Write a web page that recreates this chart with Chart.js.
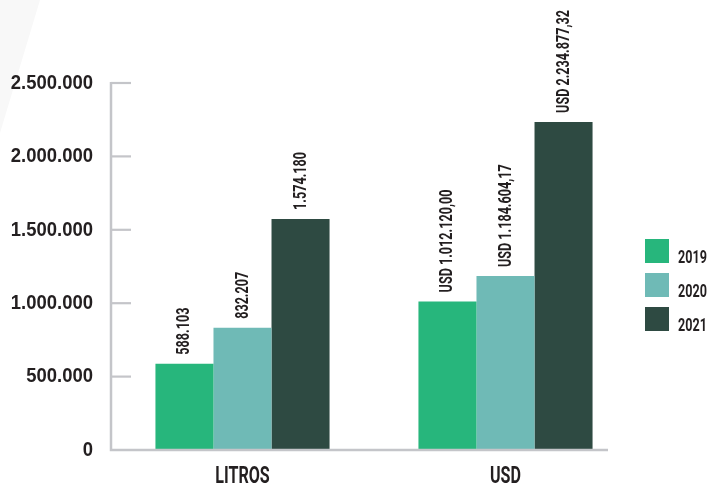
<!DOCTYPE html>
<html>
<head>
<meta charset="utf-8">
<script src="https://cdn.jsdelivr.net/npm/chart.js@4"></script>
<style>
  html, body { margin: 0; padding: 0; background: #ffffff; }
  #wrap { width: 710px; height: 488px; position: relative; }
</style>
</head>
<body>
<div id="wrap"><canvas id="c" width="710" height="488" style="width:710px;height:488px"></canvas></div>
<script>
// ---- data ----
const categories = ['LITROS', 'USD'];
const seriesNames = ['2019', '2020', '2021'];
const values2019 = [588103, 1012120.00];
const values2020 = [832207, 1184604.17];
const values2021 = [1574180, 2234877.32];
const yTickLabels = ['0', '500.000', '1.000.000', '1.500.000', '2.000.000', '2.500.000'];
const valuePrefixes = ['', 'USD '];
const valueDecimals = [0, 2];

// ---- styles ----
const seriesColors = ['#27b67c', '#6fbab6', '#2e4a42'];
const textColor = '#231f20';
const axisColor = '#c4c5c9';

function fmtNumber(v, dec) {
  const parts = Math.abs(v).toFixed(dec).split('.');
  const intPart = parts[0].replace(/\B(?=(\d{3})+(?!\d))/g, '.');
  return (v < 0 ? '-' : '') + intPart + (dec > 0 ? ',' + parts[1] : '');
}

// condensed text rendering (horizontal squeeze per font family)
const canvas = document.getElementById('c');
const ctx = canvas.getContext('2d');
function squeezeFor(font) {
  if (font.indexOf('Roboto') >= 0) return 0.7;
  if (font.indexOf('Liberation') >= 0) return 0.88;
  return 1;
}
const origFill = ctx.fillText.bind(ctx);
const origMeasure = ctx.measureText.bind(ctx);
ctx.fillText = function (t, x, y) {
  const s = squeezeFor(ctx.font);
  ctx.save();
  ctx.translate(x, y);
  ctx.scale(s, 1);
  origFill(t, 0, 0);
  ctx.restore();
};
ctx.measureText = function (t) {
  const m = origMeasure(t);
  const s = squeezeFor(ctx.font);
  return {
    width: m.width * s,
    actualBoundingBoxAscent: m.actualBoundingBoxAscent,
    actualBoundingBoxDescent: m.actualBoundingBoxDescent,
    actualBoundingBoxLeft: m.actualBoundingBoxLeft * s,
    actualBoundingBoxRight: m.actualBoundingBoxRight * s,
    fontBoundingBoxAscent: m.fontBoundingBoxAscent,
    fontBoundingBoxDescent: m.fontBoundingBoxDescent
  };
};

const decoPlugin = {
  id: 'deco',
  beforeDraw(chart) {
    const c = chart.ctx;
    c.save();
    c.fillStyle = '#f8f8f8';
    c.beginPath();
    c.moveTo(0, 0);
    c.lineTo(40, 0);
    c.lineTo(0, 133);
    c.closePath();
    c.fill();
    c.restore();
  }
};

const axesPlugin = {
  id: 'customAxes',
  afterDatasetsDraw(chart) {
    const c = chart.ctx;
    const a = chart.chartArea;
    const y = chart.scales.y;
    c.save();
    c.strokeStyle = axisColor;
    c.lineWidth = 2.5;
    c.beginPath();
    c.moveTo(a.left, a.top - 1);
    c.lineTo(a.left, a.bottom);
    c.lineTo(a.right - 29, a.bottom);
    c.stroke();
    c.lineWidth = 2.2;
    y.ticks.forEach(t => {
      const py = y.getPixelForValue(t.value);
      if (Math.abs(py - a.bottom) < 1) return;
      c.beginPath();
      c.moveTo(a.left, py);
      c.lineTo(a.left + 20, py);
      c.stroke();
    });
    c.restore();
  }
};

const valueLabelPlugin = {
  id: 'valueLabels',
  afterDatasetsDraw(chart) {
    const c = chart.ctx;
    c.save();
    c.fillStyle = textColor;
    c.font = '700 18px Roboto';
    c.textAlign = 'left';
    c.textBaseline = 'middle';
    chart.data.datasets.forEach((ds, di) => {
      const meta = chart.getDatasetMeta(di);
      meta.data.forEach((bar, i) => {
        const txt = valuePrefixes[i] + fmtNumber(ds.data[i], valueDecimals[i]);
        c.save();
        c.translate(bar.x + 0.5, bar.y - 9);
        c.rotate(-Math.PI / 2);
        c.fillText(txt, 0, 0);
        c.restore();
      });
    });
    c.restore();
  }
};

const legendPlugin = {
  id: 'customLegend',
  afterDraw(chart) {
    const c = chart.ctx;
    const a = chart.chartArea;
    const x0 = a.right + 8;
    const top0 = 239;
    c.save();
    c.font = '700 18px Roboto';
    c.textAlign = 'left';
    c.textBaseline = 'alphabetic';
    chart.data.datasets.forEach((ds, i) => {
      const ty = top0 + i * 34;
      c.fillStyle = ds.backgroundColor;
      c.fillRect(x0, ty, 24, 24);
      c.fillStyle = textColor;
      c.fillText(ds.label, x0 + 33, ty + 24);
    });
    c.restore();
  }
};

const seriesValues = [values2019, values2020, values2021];

new Chart(ctx, {
  type: 'bar',
  data: {
    labels: categories,
    datasets: seriesNames.map((name, i) => ({
      label: name,
      data: seriesValues[i],
      backgroundColor: seriesColors[i],
      borderWidth: 0,
      categoryPercentage: 0.662,
      barPercentage: 1.0
    }))
  },
  options: {
    responsive: false,
    animation: false,
    devicePixelRatio: 1,
    layout: { padding: { top: 83, right: 73, bottom: 0, left: 0 } },
    plugins: {
      legend: { display: false },
      tooltip: { enabled: false }
    },
    scales: {
      x: {
        grid: { display: false, drawTicks: false },
        border: { display: false },
        ticks: {
          color: textColor,
          font: { family: 'Roboto', weight: '700', size: 23 },
          padding: 13
        },
        afterFit(s) { s.height = 38; }
      },
      y: {
        min: 0,
        max: 2500000,
        grid: { display: false, drawTicks: false },
        border: { display: false },
        ticks: {
          stepSize: 500000,
          color: textColor,
          font: { family: 'Liberation Sans', weight: '700', size: 21 },
          padding: 18,
          callback: (v, i) => yTickLabels[i]
        },
        afterFit(s) { s.width = 111; }
      }
    }
  },
  plugins: [decoPlugin, axesPlugin, valueLabelPlugin, legendPlugin]
});
</script>
</body>
</html>
